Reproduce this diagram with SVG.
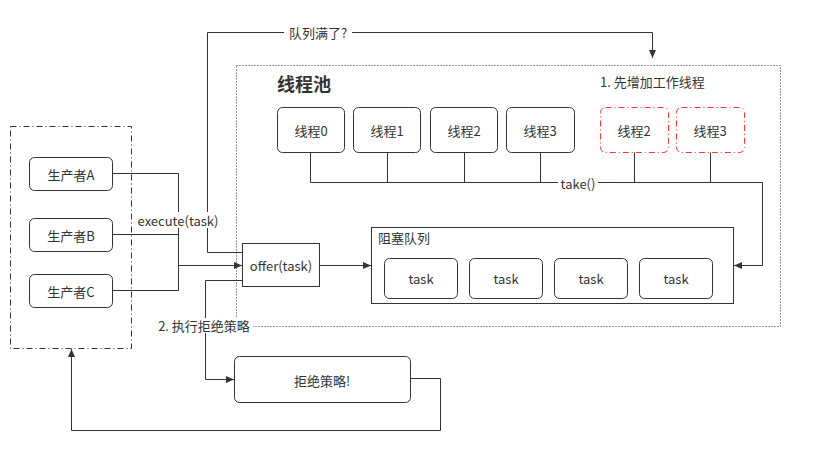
<svg xmlns="http://www.w3.org/2000/svg" width="822" height="458" viewBox="0 0 822 458">
<defs>
<marker id="arr" markerWidth="10" markerHeight="10" refX="9" refY="5" orient="auto" markerUnits="userSpaceOnUse"><path d="M1,1.5 L9,5 L1,8.5 Z" fill="#333"/></marker>
<style>
text{font-family:"Noto Sans CJK SC","Liberation Sans",sans-serif;font-size:13px;fill:#333;}
.c{text-anchor:middle;dominant-baseline:central;}
.box{fill:#fff;stroke:#333;stroke-width:1;}
.red{fill:#fff;stroke:#FF3333;stroke-width:1;stroke-dasharray:6 3 1 3;}
.ln{fill:none;stroke:#333;stroke-width:1;}
.lbl{fill:#fff;}
</style>
</defs>
<rect width="822" height="458" fill="#fff"/>
<g id="producers">
<rect x="10.5" y="126.5" width="121" height="222" fill="#fff" stroke="#333" stroke-dasharray="6 3 1 3"/>
</g>
<g id="pool">
<rect x="236.5" y="65.5" width="544" height="261" fill="none" stroke="#333" stroke-dasharray="1 2"/>
<text x="277" y="91" style="font-size:18px;font-weight:bold">线程池</text>
<text x="600" y="87">1. 先增加工作线程</text>
</g>
<g id="connectors">
<path class="ln" d="M112,173.5 H178.5 V290.5 H112 M112,234.5 H178.5"/>
<path class="ln" d="M178.5,265.5 H242" stroke-width="2" marker-end="url(#arr)"/>
<path class="ln" d="M319,265.5 H371" marker-end="url(#arr)"/>
<path class="ln" d="M310.5,152 V182.5 H762.5 V265.5 H734" stroke-width="1" marker-end="url(#arr)"/>
<path class="ln" d="M387.5,152 V182.5 M464.5,152 V182.5 M540.5,152 V182.5 M634.5,152 V182.5 M710.5,152 V182.5"/>
<path class="ln" d="M762.5,182.5 V265.5" stroke-width="2"/>
<path class="ln" d="M242,252.5 H207.5 V32.5 H652.5 V58" marker-end="url(#arr)"/>
<path class="ln" d="M242,280.5 H205.5 V379.5 H234" marker-end="url(#arr)"/>
<path class="ln" d="M410,378.5 H440.5 V430.5 H71.5 V349" marker-end="url(#arr)"/>
<rect class="lbl" x="136" y="212" width="84" height="16"/>
<text x="178" y="220" class="c">execute(task)</text>
<rect class="lbl" x="284" y="25" width="68" height="15"/>
<text x="318" y="32" class="c">队列满了?</text>
<rect class="lbl" x="558" y="176" width="40" height="14"/>
<text x="578" y="183" class="c">take()</text>
<rect class="lbl" x="155" y="318" width="98" height="15"/>
<text x="204" y="325" class="c">2. 执行拒绝策略</text>
</g>
<g id="producerA"><rect class="box" x="29.5" y="157.5" width="83" height="33" rx="5"/><text x="71" y="174" class="c">生产者A</text></g>
<g id="producerB"><rect class="box" x="29.5" y="218.5" width="83" height="33" rx="5"/><text x="71" y="235" class="c">生产者B</text></g>
<g id="producerC"><rect class="box" x="29.5" y="274.5" width="83" height="33" rx="5"/><text x="71" y="291" class="c">生产者C</text></g>
<g id="thread0"><rect class="box" x="277.5" y="107.5" width="67" height="45" rx="5"/><text x="311" y="130" class="c">线程0</text></g>
<g id="thread1"><rect class="box" x="353.5" y="107.5" width="67" height="45" rx="5"/><text x="387" y="130" class="c">线程1</text></g>
<g id="thread2"><rect class="box" x="430.5" y="107.5" width="67" height="45" rx="5"/><text x="464" y="130" class="c">线程2</text></g>
<g id="thread3"><rect class="box" x="506.5" y="107.5" width="68" height="45" rx="5"/><text x="540" y="130" class="c">线程3</text></g>
<g id="newThread2"><rect class="red" x="600.5" y="107.5" width="68" height="45" rx="5"/><text x="634" y="130" class="c">线程2</text></g>
<g id="newThread3"><rect class="red" x="676.5" y="107.5" width="68" height="45" rx="5"/><text x="710" y="130" class="c">线程3</text></g>
<g id="offer"><rect class="box" x="242.5" y="243.5" width="77" height="43"/><text x="281" y="265" class="c">offer(task)</text></g>
<g id="queue">
<rect class="box" x="371.5" y="227.5" width="362" height="76"/>
<text x="378" y="243">阻塞队列</text>
</g>
<g id="task1"><rect class="box" x="384.5" y="258.5" width="73" height="40" rx="5"/><text x="421" y="278" class="c">task</text></g>
<g id="task2"><rect class="box" x="469.5" y="258.5" width="73" height="40" rx="5"/><text x="506" y="278" class="c">task</text></g>
<g id="task3"><rect class="box" x="554.5" y="258.5" width="73" height="40" rx="5"/><text x="591" y="278" class="c">task</text></g>
<g id="task4"><rect class="box" x="639.5" y="258.5" width="73" height="40" rx="5"/><text x="676" y="278" class="c">task</text></g>
<g id="reject"><rect class="box" x="234.5" y="356.5" width="176" height="46" rx="5"/><text x="322" y="380" class="c">拒绝策略!</text></g>
</svg>
